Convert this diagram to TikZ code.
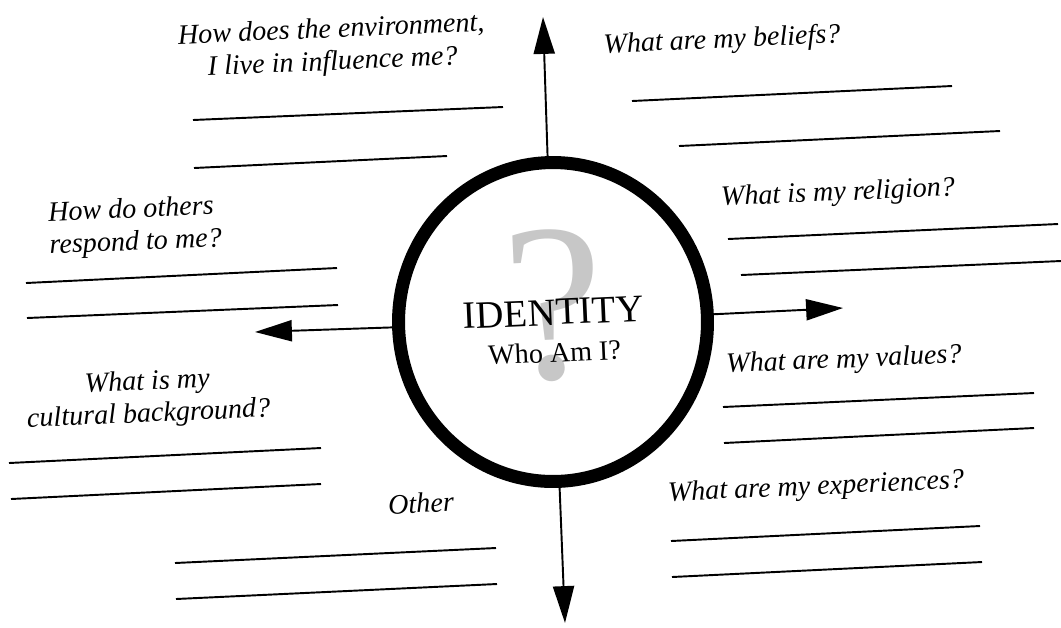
\documentclass[tikz,border=0pt]{standalone}
\usepackage{fontspec}
\setmainfont{Liberation Serif}
\usetikzlibrary{arrows.meta,shapes.geometric}
\tikzset{
  >={Triangle[length=21pt,width=12pt]},
}

\begin{document}
\begin{tikzpicture}[
  x=0.02cm, y=-0.02cm,
  line width=1.1pt,
  ask/.style={font=\fontsize{16}{18.5}\selectfont\itshape, rotate=2.5, inner sep=0pt, align=center},
  ring/.style={draw, ellipse, line width=7.4pt, minimum width=6.18cm, minimum height=6.38cm, inner sep=0pt},
  centre/.style={rotate=2.5, anchor=base, inner sep=0pt},
  wline/.style={line width=1.1pt}
]
\useasboundingbox (0,0) rectangle (1061,627);
\node[ring] (id) at (553,322) {};
\node[font=\fontsize{128}{128}\selectfont, text=black!22, rotate=2.5] (qm) at (554,306) {?};
\node[centre, font=\fontsize{22}{22}\selectfont] (title) at (554,325) {IDENTITY};
\node[centre, font=\fontsize{16}{16}\selectfont] (who) at (555,362) {Who Am I?};

% arrows out of the circle
\coordinate (uptip) at (543,17);
\coordinate (downtip) at (565,623);
\coordinate (righttip) at (843,308);
\coordinate (lefttip) at (255,332);
\draw[->] (id) -- (uptip);
\draw[->] (id) -- (downtip);
\draw[->] (id) -- (righttip);
\draw[->] (id) -- (lefttip);

% writing lines
\foreach \xa/\ya/\xb/\yb in {193/120/503/107, 194/168/447/156, 26/283/337/268, 27/318/338/305,
  9/463/321/448, 11/499/321/484, 175/563/496/548, 176/599/497/584,
  632/101/952/86, 679/146/1000/131, 728/239/1058/224, 741/275/1061/261,
  723/407/1034/393, 724/443/1034/428, 671/541/980/526, 672/577/982/562}
  \draw[wline] (\xa,\ya) -- (\xb,\yb);

% questions
\node[ask] (env) at (332,47) {How does the environment,\\I live in influence me?};
\node[ask] (beliefs) at (722,41) {What are my beliefs?};
\node[ask] (religion) at (838,194) {What is my religion?};
\node[ask, anchor=west, align=left] (others) at (48,231) {How do others\\respond to me?};
\node[ask] (cultural) at (148,399) {What is my\\cultural background?};
\node[ask] (other) at (421,503) {Other};
\node[ask] (values) at (844,361) {What are my values?};
\node[ask] (exper) at (816,488) {What are my experiences?};
\end{tikzpicture}
\end{document}
